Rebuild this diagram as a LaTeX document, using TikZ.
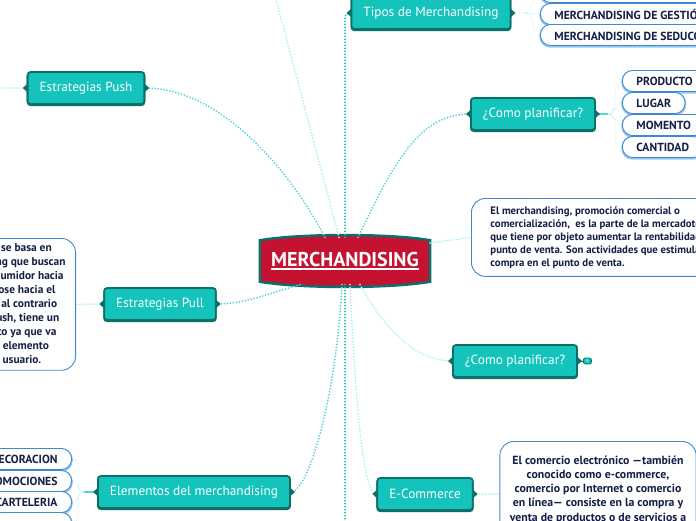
\documentclass[tikz,border=0pt]{standalone}
\usepackage{fontspec}
\setmainfont{PT Sans}
\usetikzlibrary{positioning,calc,backgrounds}

\definecolor{topicfill}{RGB}{20,196,188}
\definecolor{topicdark}{RGB}{12,112,106}
\definecolor{merchred}{RGB}{196,18,48}
\definecolor{pillblue}{RGB}{62,138,210}
\definecolor{pilllight}{RGB}{150,200,236}
\definecolor{navy}{RGB}{20,30,70}
\definecolor{linkdark}{RGB}{28,186,182}
\definecolor{linkmid}{RGB}{90,210,216}
\definecolor{linkpale}{RGB}{172,238,244}

\newcommand{\thickul}[1]{\setbox0\hbox{#1}\rlap{\rule[-2.8pt]{\wd0}{1.5pt}}\box0}

\tikzset{
    topic/.style={rectangle, rounded corners=3pt, fill=topicfill, draw=topicdark, line width=1.8pt,
        text=white, font=\fontsize{13.3}{15}\selectfont, minimum height=32pt, inner xsep=12pt,
        preaction={draw=topicdark, line width=1.8pt, transform canvas={yshift=-1.2pt}}},
    leaf/.style={rectangle, rounded corners=10pt, fill=white, draw=pillblue, line width=0.9pt,
        text=navy, font=\bfseries\fontsize{11.7}{13}\selectfont, minimum height=21pt,
        inner xsep=14pt, inner ysep=0pt,
        preaction={draw=pilllight, line width=2.4pt, transform canvas={yshift=-1pt}}},
    note/.style={rectangle, rounded corners=14pt, fill=white, draw=pillblue, line width=0.9pt, text=navy},
    badge/.style={rectangle, rounded corners=2pt, fill=topicfill, draw=topicdark, line width=0.8pt,
        minimum width=8pt, minimum height=6pt, inner sep=0pt, text=white, font=\fontsize{4}{4}\selectfont},
    link/.style={line width=2pt, line cap=round, dash pattern=on 0pt off 3pt},
    twig/.style={line width=0.7pt, line cap=round, dash pattern=on 0pt off 1.6pt, draw=linkpale!80!linkdark}
}

\begin{document}
\begin{tikzpicture}[x=1pt, y=-1pt]
    \useasboundingbox (0,0) rectangle (696,520);

    % Central topic
    \node[font=\bfseries\fontsize{20}{22}\selectfont, text=white, minimum width=170pt, minimum height=47pt,
        inner sep=0pt] (merch) at (345,261) {\thickul{MERCHANDISING}};

    % Main topics
    \node[topic] (tipos) at (431,13) {Tipos de Merchandising};
    \node[topic] (push) at (86,88) {Estrategias Push};
    \node[topic] (plan1) at (533,114) {¿Como planificar?};
    \node[topic] (pull) at (160,304) {Estrategias Pull};
    \node[topic] (plan2) at (515,361) {¿Como planificar?};
    \node[topic] (elem) at (194,492) {Elementos del merchandising};
    \node[topic] (ecom) at (425,494) {E-Commerce};
    \node[badge, right=5pt of plan2] (plan2more) {4};

    % Leaves of Tipos de Merchandising
    \node[leaf, anchor=west, minimum width=200pt] (visual) at (540,-8) {};
    \node[leaf, anchor=west] (gestion) at (540,14) {MERCHANDISING DE GESTIÓN};
    \node[leaf, anchor=west] (seduccion) at (540,35) {MERCHANDISING DE SEDUCCIÓN};

    % Leaves of the first planning topic
    \node[leaf, anchor=west] (prod) at (622,81) {PRODUCTO};
    \node[leaf, anchor=west] (lugar) at (622,103) {LUGAR};
    \node[leaf, anchor=west] (momento) at (622,125) {MOMENTO};
    \node[leaf, anchor=west] (cantidad) at (622,147) {CANTIDAD};

    % Leaves of Elementos del merchandising
    \node[leaf, anchor=east] (deco) at (72,459) {DECORACION};
    \node[leaf, anchor=east] (promo) at (72,481) {PROMOCIONES};
    \node[leaf, anchor=east] (cartel) at (72,502) {CARTELERIA};
    \node[leaf, anchor=east, minimum width=80pt] (leafd) at (72,523) {};

    % Notes
    \node[note, anchor=north west, align=left, inner xsep=19pt, inner ysep=8pt,
        font=\bfseries\fontsize{10.8}{13}\selectfont] (deftxt) at (471,198)
        {El merchandising, promoción comercial o\\
         comercialización,~ es la parte de la mercadotecnia\\
         que tiene por objeto aumentar la rentabilidad en el\\
         punto de venta. Son actividades que estimulan la\\
         compra en el punto de venta.};
    \node[note, anchor=north, align=center, minimum width=194pt, minimum height=110pt, inner xsep=10pt,
        inner ysep=6pt, font=\bfseries\fontsize{11.8}{14.3}\selectfont] (ecomtxt) at (598,441)
        {El comercio electrónico —también\\
         conocido como e-commerce,\\
         comercio por Internet o comercio\\
         en línea— consiste en la compra y\\
         venta de productos o de servicios a\\
         través de Internet, tales como};
    \node[note, anchor=north east, align=center, inner xsep=10pt, inner ysep=5pt,
        font=\bfseries\fontsize{11.4}{14}\selectfont] (pulltxt) at (76,238)
        {La estrategia Pull se basa en\\
         acciones de marketing que buscan\\
         la atracción del consumidor hacia\\
         la marca, moviéndose hacia el\\
         punto de venta. Es al contrario\\
         que la estrategia Push, tiene un\\
         enfoque más directo ya que va\\
         dirigida al último elemento\\
         de la cadena, el usuario.};

    % Off-screen ends
    \coordinate (offtop) at (263,-50);
    \coordinate (offbottom) at (345,560);
    \coordinate (offleft) at (-40,88);

    % Brace notches on the topics
    \foreach \t in {tipos,push,plan1,pull,plan2,elem,ecom} {
        \fill[topicdark] ($(\t.west)+(0.5,-4)$) -- ++(-4.5,4) -- ++(4.5,4) -- cycle;
        \fill[topicdark] ($(\t.east)+(-0.5,-4)$) -- ++(4.5,4) -- ++(-4.5,4) -- cycle;
    }

    \begin{scope}[on background layer]
        % Barrel shape of the central topic
        \coordinate (bA) at ($(merch.north west)+(0,3)$);
        \coordinate (bB) at ($(merch.north east)+(0,3)$);
        \coordinate (bC) at ($(merch.south east)+(0,-3)$);
        \coordinate (bD) at ($(merch.south west)+(0,-3)$);
        \filldraw[fill=merchred, draw=topicdark, line width=2.5pt]
            (bA) .. controls ($(bA)+(40,-7)$) and ($(bB)+(-40,-7)$) .. (bB) -- (bC)
            .. controls ($(bC)+(-40,7)$) and ($(bD)+(40,7)$) .. (bD) -- cycle;

        % Connectors from the centre
        \draw[link, linkdark, rounded corners=4pt] (merch.north) |- (tipos.west);
        \draw[link, linkpale] ($(merch.north)+(-6,0)$) -- (offtop);
        \draw[link, linkmid] ($(merch.north)+(-20,0)$) .. controls (290,170) and (220,88) .. (push.east);
        \draw[link, linkmid] ($(merch.north)+(13,0)$) .. controls (395,160) and (420,114) .. (plan1.west);
        \draw[link, linkpale] ($(merch.east)+(0,-18)$) -- (deftxt.west);
        \draw[link, linkmid] ($(merch.south)+(-45,0)$) .. controls (270,293) and (245,304) .. (pull.east);
        \draw[link, linkpale] ($(merch.south)+(15,0)$) .. controls (380,320) and (410,361) .. (plan2.west);
        \draw[link, linkmid] ($(merch.south)+(-3,0)$) .. controls (336,400) and (308,492) .. (elem.east);
        \draw[link, linkpale] ($(merch.south)+(5,0)$) .. controls (355,390) and (362,494) .. (ecom.west);
        \draw[link, linkdark] (merch.south) -- (offbottom);

        % Connectors from topics to their notes
        \draw[link, linkpale] (push.west) -- (offleft);
        \draw[link, linkpale] (pull.west) -- (pulltxt.east);
        \draw[link, linkpale] (ecom.east) -- (ecom.east -| ecomtxt.west);
        \draw[topicdark, line width=1pt] (plan2.east) -- (plan2more.west);

        % Fans to the leaves
        \coordinate (tiposhub) at ($(tipos.east)+(14,0)$);
        \draw[twig] (tipos.east) -- (tiposhub);
        \foreach \c in {visual,gestion,seduccion}
            \draw[twig] (tiposhub) to[out=0,in=180] (\c.west);

        \coordinate (planhub) at ($(plan1.east)+(12,0)$);
        \draw[linkmid, line width=1.5pt] (plan1.east) -- (planhub);
        \foreach \c in {prod,lugar,momento,cantidad}
            \draw[twig] (planhub) to[out=0,in=180] (\c.west);

        \coordinate (elemhub) at ($(elem.west)+(-13,0)$);
        \draw[linkmid, line width=1.5pt] (elem.west) -- (elemhub);
        \foreach \c in {deco,promo,cartel,leafd}
            \draw[twig] (elemhub) to[out=180,in=0] (\c.east);
    \end{scope}
\end{tikzpicture}
\end{document}
